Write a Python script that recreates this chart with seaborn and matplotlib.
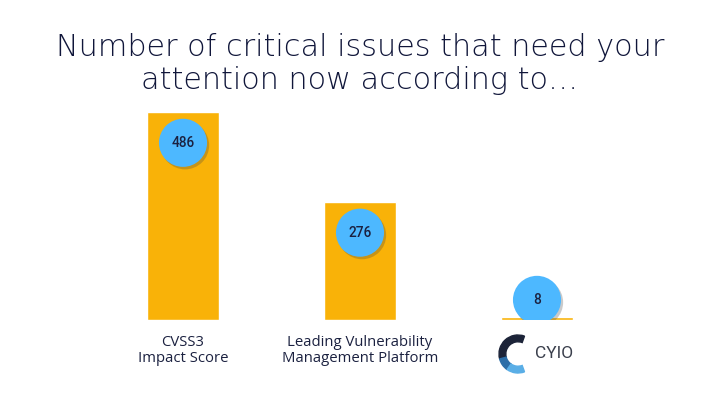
import matplotlib
matplotlib.use("Agg")
import matplotlib.pyplot as plt
import matplotlib.patheffects as pe
from matplotlib.patches import Wedge
import seaborn as sns
import pandas as pd

categories = ["CVSS3\nImpact Score", "Leading Vulnerability\nManagement Platform", "CYIO"]
values = [486, 276, 8]
value_labels = ["486", "276", "8"]
title = "Number of critical issues that need your\nattention now according to…"

BAR = "#F9B208"
BUBBLE = "#4DB8FF"
NAVY = "#1B2140"

sns.set_theme(style="white")
plt.rcParams["font.family"] = ["Open Sans", "DejaVu Sans"]

W, H, DPI = 720, 405, 100
fig = plt.figure(figsize=(W / DPI, H / DPI), dpi=DPI)
fig.patch.set_facecolor("white")

base_px, top_px = 320, 100
ax = fig.add_axes([0, (H - base_px) / H, 1, (base_px - top_px) / H])
df = pd.DataFrame({"cat": categories, "val": values})
sns.barplot(data=df, x="cat", y="val", color=BAR, width=0.405, saturation=1, ax=ax)
ax.set_xlim(-183 / 177, (720 - 183) / 177)
ymax = values[0] * (base_px - top_px) / 208
ax.set_ylim(0, ymax)
ax.axis("off")

# bubbles
offset = 72
ys = [max(v - offset, 47) for v in values]
xs = list(range(len(values)))
ax.scatter(xs, ys, s=1200, color=BUBBLE, zorder=5, linewidths=0,
           path_effects=[pe.SimplePatchShadow(offset=(1.5, -1.8), shadow_rgbFace="#444444", alpha=0.28),
                         pe.Normal()])
for x, y, t in zip(xs, ys, value_labels):
    ax.text(x, y, t, ha="center", va="center", fontsize=9.8, color=NAVY,
            fontweight="medium", family=["Roboto", "DejaVu Sans"], zorder=6)

# category labels (first two)
for i, c in enumerate(categories[:2]):
    fig.text((183 + 177 * i) / W, 1 - 335 / H, c, ha="center", va="top",
             fontsize=10.7, color=NAVY, linespacing=1.05)

# CYIO logo
lax = fig.add_axes([494 / W, 1 - 374 / H, 40 / W, 40 / H])
lax.set_xlim(-1, 1)
lax.set_ylim(-1, 1)
lax.set_aspect("equal")
lax.axis("off")
lax.add_patch(Wedge((0.2, 0), 0.95, 70, 195, width=0.34, color="#1C2338"))
lax.add_patch(Wedge((0.2, 0), 0.95, 195, 235, width=0.34, color="#2C6EA8"))
lax.add_patch(Wedge((0.2, 0), 0.95, 235, 290, width=0.34, color="#5AAEE6"))
fig.text(535 / W, 1 - 354 / H, "CYIO", ha="left", va="center", fontsize=12.5,
         color="#3A3F4C", family=["Roboto", "DejaVu Sans"], fontweight="normal")

fig.text(0.5, 1 - 64 / H, title, ha="center", va="center", fontsize=21.8,
         color="#10163A", linespacing=1.2, fontweight=200, family=["DejaVu Sans"])

fig.savefig("out.png", dpi=DPI, facecolor="white")
